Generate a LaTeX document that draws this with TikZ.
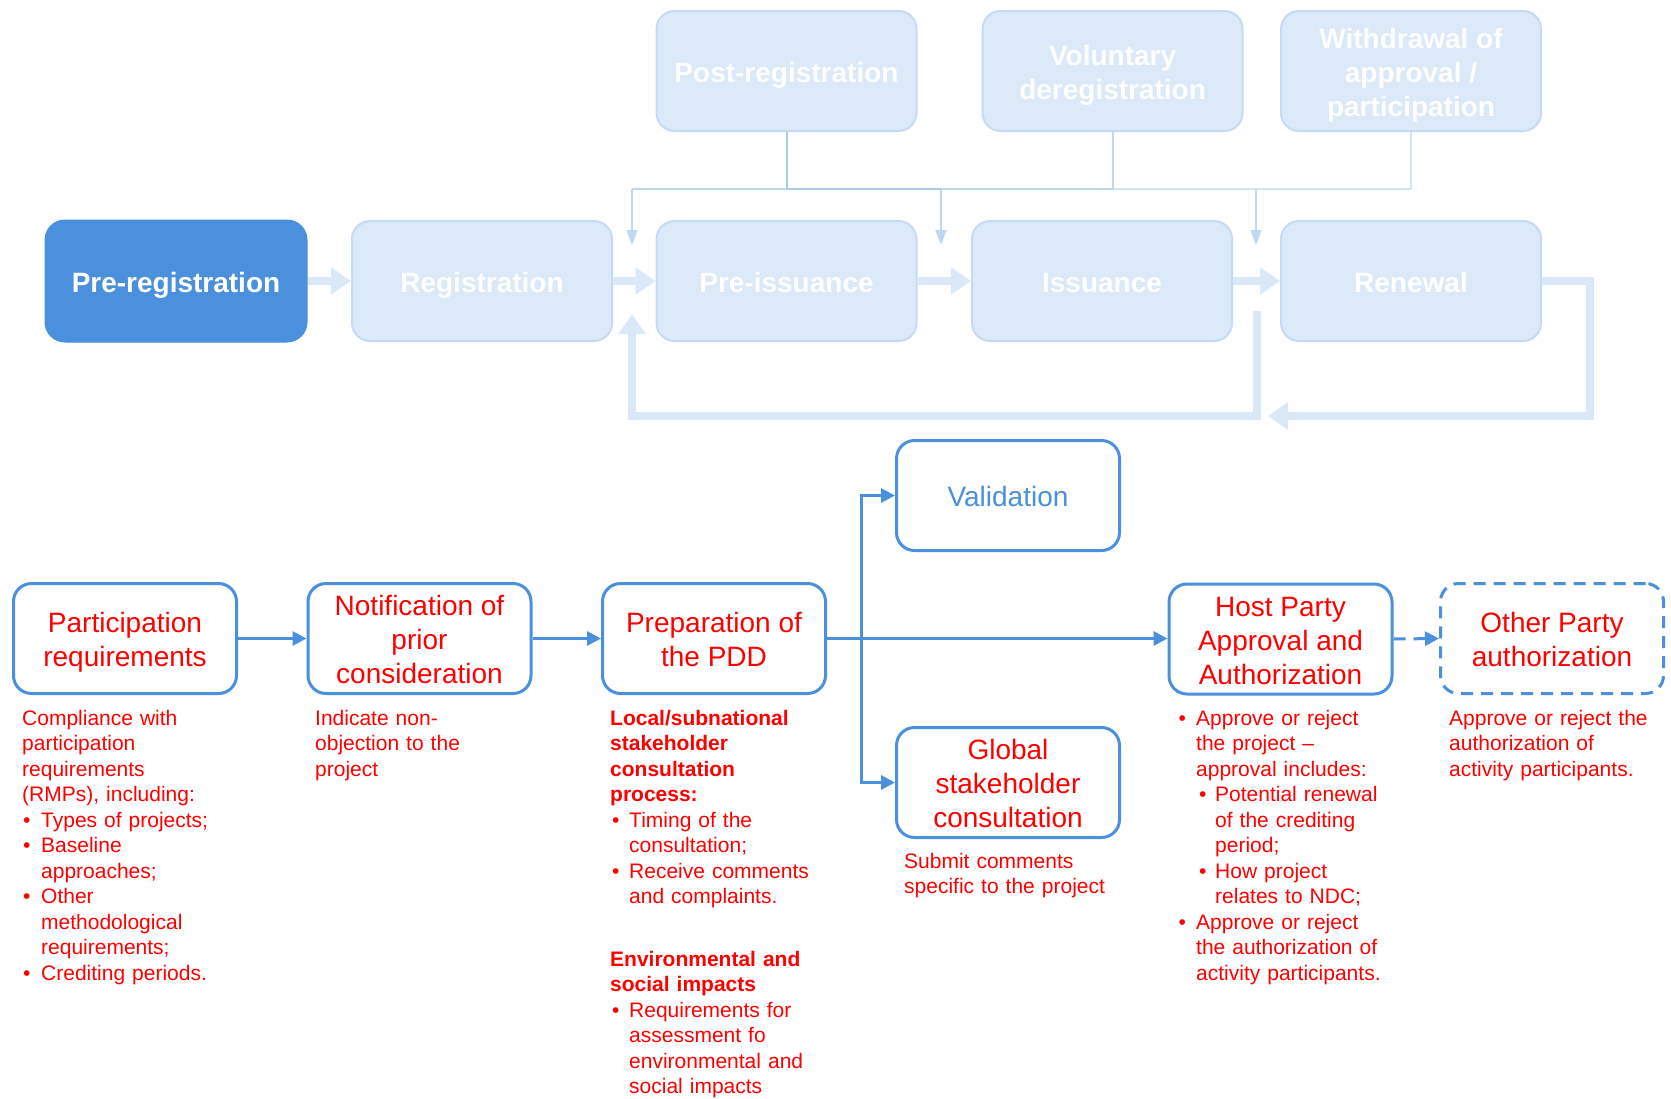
\documentclass[tikz,border=0pt]{standalone}
\usepackage{fontspec}
\setmainfont{Liberation Sans}
\usetikzlibrary{arrows.meta}
\definecolor{dblue}{RGB}{74,144,221}
\definecolor{lfill}{RGB}{220,233,248}
\definecolor{lborder}{RGB}{197,219,243}
\definecolor{larrow}{RGB}{218,232,248}
\definecolor{thinA}{RGB}{170,203,238}
\definecolor{thinB}{RGB}{190,216,243}
\definecolor{thinC}{RGB}{212,228,247}
\definecolor{myred}{RGB}{255,0,0}
\newcommand{\myboxfont}{\fontsize{28}{34}\selectfont}
\newcommand{\mydescfont}{\fontsize{21}{25.5}\selectfont}
\newcommand{\topstr}{\rule{0pt}{28.5pt}}
\newcommand{\botstr}{\rule[-6.5pt]{0pt}{0pt}}
\newcommand{\bitem}[3]{\par\hangindent=\dimexpr#1+#2\relax\hangafter=1\noindent\hspace*{#1}\makebox[#2][l]{\textbullet}#3}
\newcommand{\bitemfirst}[3]{\hangindent=\dimexpr#1+#2\relax\hangafter=1\noindent\hspace*{#1}\makebox[#2][l]{\textbullet}#3}
\tikzset{
 topbox/.style={draw=lborder, line width=2pt, fill=lfill, rounded corners=18pt, minimum width=260pt, minimum height=120pt, text=white, font=\myboxfont\bfseries, align=center, inner sep=0pt},
 prebox/.style={draw=dblue, fill=dblue, line width=1pt, rounded corners=20pt, minimum width=262pt, minimum height=122pt, text=white, font=\myboxfont\bfseries, inner sep=0pt},
 botbox/.style={draw=dblue, line width=3pt, fill=white, rounded corners=18pt, minimum width=223pt, minimum height=110pt, text=myred, font=\myboxfont, align=center, inner sep=0pt},
 desc/.style={anchor=base west, inner sep=0pt, text=myred, font=\mydescfont, text width=#1, align=left},
 thickarr/.style={draw=larrow, line width=8pt, -{Triangle[length=20pt,width=26pt]}},
 thinarr/.style={line width=2pt, -{Triangle[length=15pt,width=11pt]}},
 barr/.style={draw=dblue, line width=3pt, -{Triangle[length=14pt,width=14pt]}},
}
\begin{document}
\begin{tikzpicture}[x=1pt,y=-1pt]
\useasboundingbox[fill=white] (0,0) rectangle (1671,1098);
% top row
\node[prebox] (prereg) at (176,281) {\topstr Pre-registration\botstr};
\node[topbox] (reg) at (482,281) {\topstr Registration\botstr};
\node[topbox] (preiss) at (786.5,281) {\topstr Pre-issuance\botstr};
\node[topbox] (iss) at (1102,281) {\topstr Issuance\botstr};
\node[topbox] (ren) at (1411,281) {\topstr Renewal\botstr};
\node[topbox] (post) at (786.5,71) {\topstr Post-registration\botstr};
\node[topbox] (vol) at (1112.6,71) {\topstr Voluntary\\deregistration\botstr};
\node[topbox] (wd) at (1411,71) {\topstr Withdrawal of\\approval /\\participation\botstr};
% thin connectors
\coordinate (hl) at (632,189);
\coordinate (hm) at (941,189);
\coordinate (hr) at (1256,189);
\draw[thinC, line width=2pt] (wd.south) -- (wd.south|-hl) -- (vol.south|-hl);
\draw[thinB, line width=2pt] (vol.south) -- (vol.south|-hl) -- (hl);
\draw[thinA, line width=2pt] (post.south) -- (post.south|-hl) -- (hm);
\coordinate (d1) at (632,245);
\coordinate (d2) at (941,245);
\coordinate (d3) at (1256,245);
\draw[thinarr, thinB] (hl) -- (d1);
\draw[thinarr, thinB] (hm) -- (d2);
\draw[thinarr, thinB] (hr) -- (d3);
% thick arrows
\draw[thickarr] (prereg.east) -- (reg.west);
\draw[thickarr] (reg.east) -- (preiss.west);
\draw[thickarr] (preiss.east) -- (iss.west);
\draw[thickarr] (iss.east) -- (ren.west);
\coordinate (rl1) at (1590,281);
\coordinate (rl2) at (1590,416);
\coordinate (rl3) at (1268,416);
\draw[thickarr] (ren.east) -- (rl1) -- (rl2) -- (rl3);
\coordinate (ls) at (1257,311);
\coordinate (ls1) at (1257,416);
\coordinate (ls2) at (632,416);
\coordinate (ls3) at (632,314);
\draw[thickarr] (ls) -- (ls1) -- (ls2) -- (ls3);
% bottom row
\node[botbox] (part) at (125,638.5) {\topstr Participation\\requirements\botstr};
\node[botbox] (notif) at (419.5,638.5) {\topstr Notification of\\prior\\consideration\botstr};
\node[botbox] (pdd) at (714,638.5) {\topstr Preparation of\\the PDD\botstr};
\node[botbox, text=dblue] (valid) at (1008,495.5) {\topstr Validation\botstr};
\node[botbox] (glob) at (1008,782.5) {\topstr Global\\stakeholder\\consultation\botstr};
\node[botbox] (host) at (1280.5,639) {\topstr Host Party\\Approval and\\Authorization\botstr};
\node[botbox, dash pattern=on 12pt off 8pt] (other) at (1552,638.5) {\topstr Other Party\\authorization\botstr};
\draw[barr] (part.east) -- (notif.west);
\draw[barr] (notif.east) -- (pdd.west);
\draw[barr] (pdd.east) -- (pdd.east-|host.west);
\coordinate (br) at (861,638.5);
\draw[barr] (br) |- (valid.west);
\draw[barr] (br) |- (glob.west);
\draw[barr, dash pattern=on 12pt off 8pt] (host.east) -- (other.west);
% descriptions
\node[desc=240pt] (partd) at (22,725) {Compliance with\newline participation\newline requirements\newline (RMPs), including:\bitem{1pt}{18pt}{Types of projects;}\bitem{1pt}{18pt}{Baseline\newline approaches;}\bitem{1pt}{18pt}{Other\newline methodological\newline requirements;}\bitem{1pt}{18pt}{Crediting periods.}\par};
\node[desc=240pt] (notifd) at (315,725) {Indicate non-\newline objection to the\newline project};
\node[desc=260pt] (pddd) at (610,725) {\textbf{Local/subnational\newline stakeholder\newline consultation\newline process:}\bitem{2pt}{17pt}{Timing of the\newline consultation;}\bitem{2pt}{17pt}{Receive comments\newline and complaints.}\par};
\node[desc=260pt] (pddd2) at (610,966) {\textbf{Environmental and\newline social impacts}\bitem{2pt}{17pt}{Requirements for\newline assessment fo\newline environmental and\newline social impacts}\par};
\node[desc=260pt] (globd) at (904,868) {Submit comments\newline specific to the project};
\node[desc=260pt] (hostd) at (1178.5,725) {\bitemfirst{0pt}{17.5pt}{Approve or reject\newline the project \textendash\newline approval includes:}\bitem{20.5pt}{16pt}{Potential renewal\newline of the crediting\newline period;}\bitem{20.5pt}{16pt}{How project\newline relates to NDC;}\bitem{0pt}{17.5pt}{Approve or reject\newline the authorization of\newline activity participants.}\par};
\node[desc=220pt] (otherd) at (1449,725) {Approve or reject the\newline authorization of\newline activity participants.};
\end{tikzpicture}
\end{document}
